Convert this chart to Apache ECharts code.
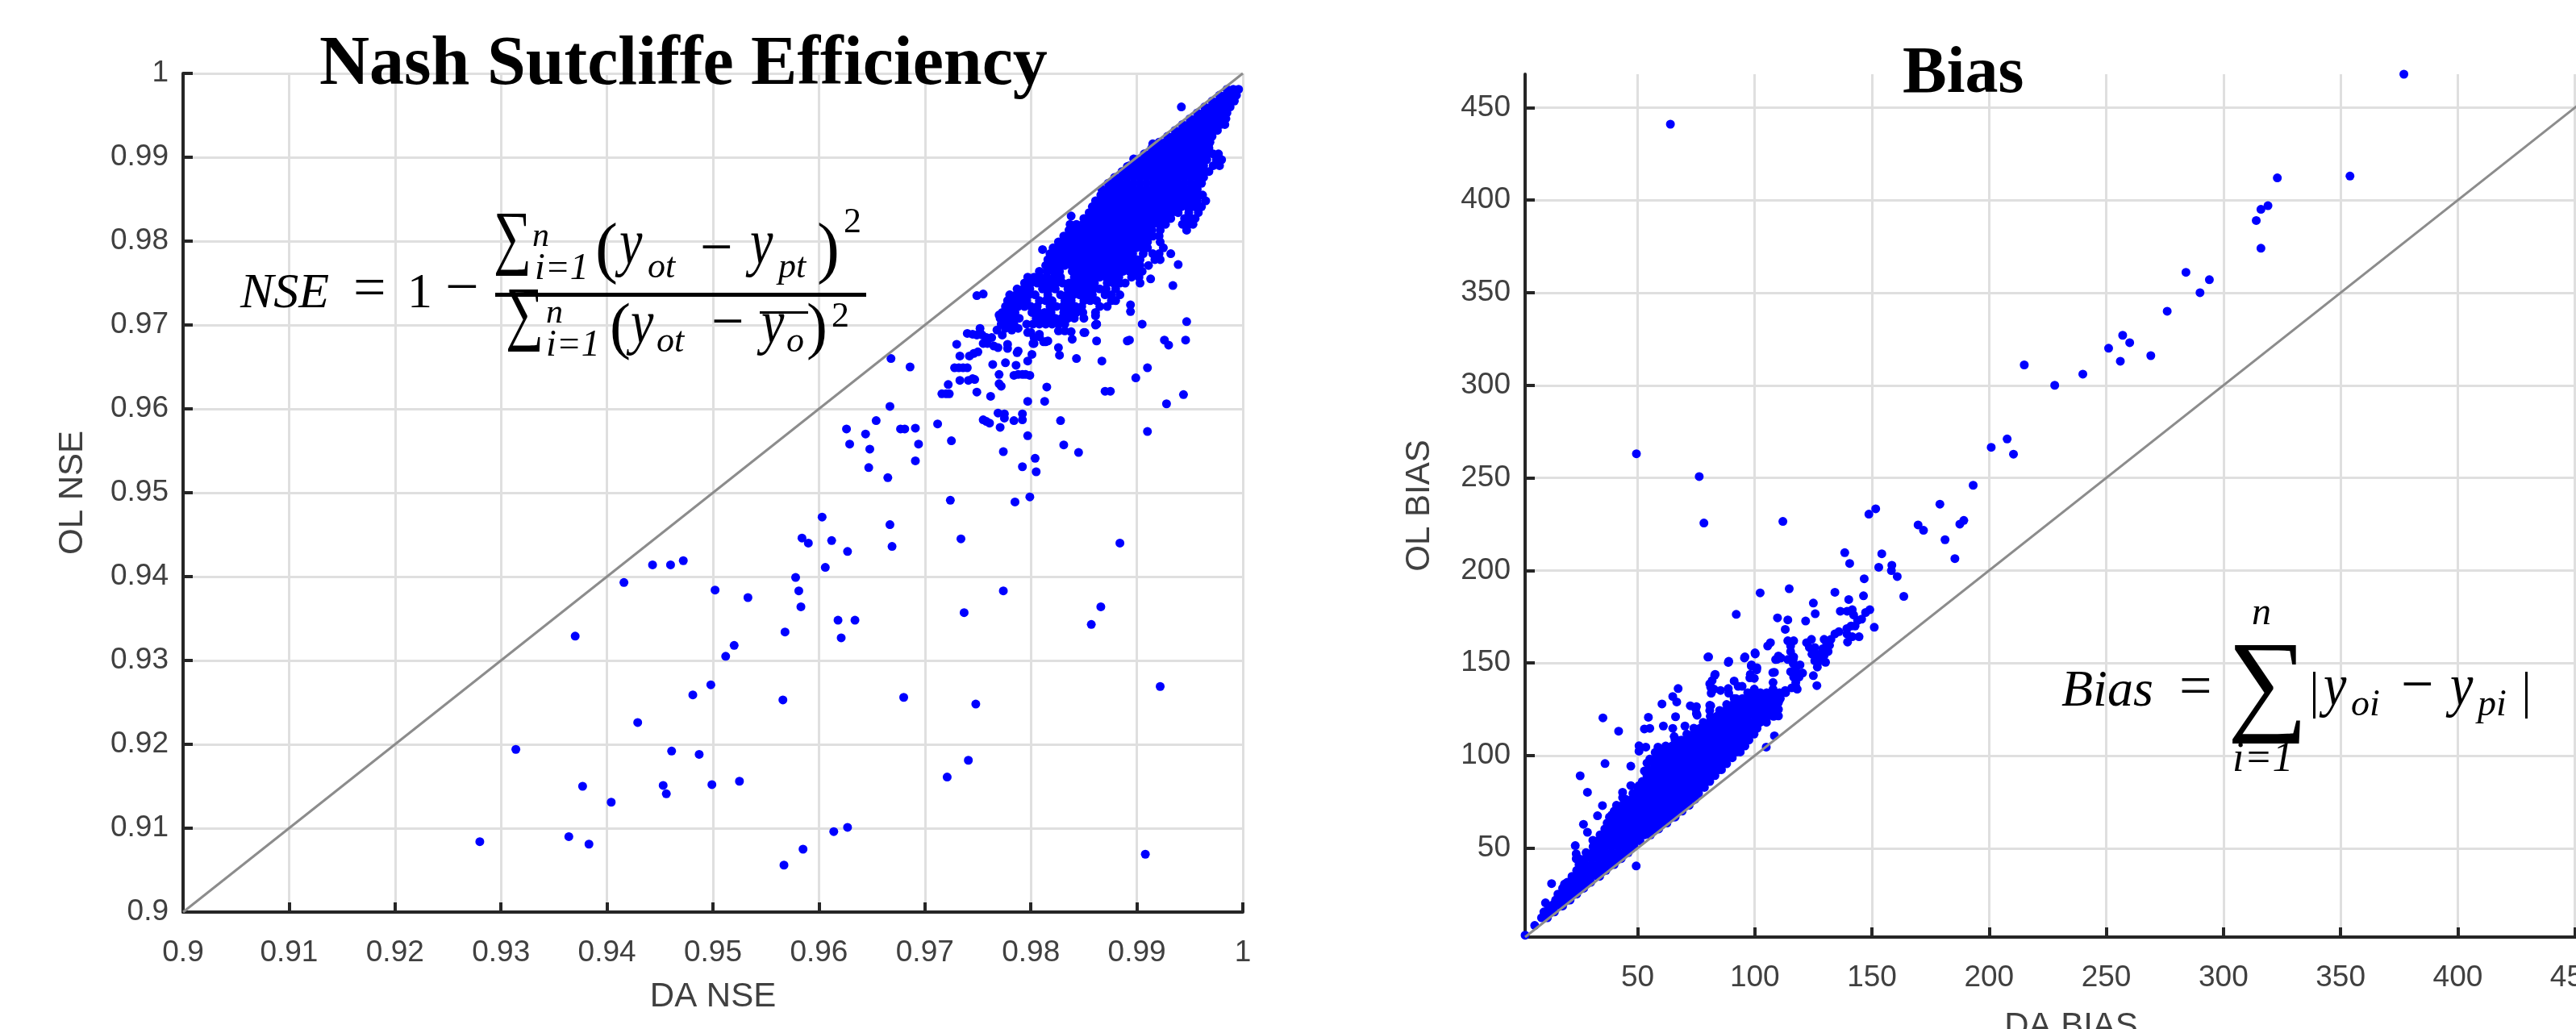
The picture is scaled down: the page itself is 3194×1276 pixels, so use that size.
<!DOCTYPE html>
<html><head><meta charset="utf-8">
<style>html,body{margin:0;padding:0;background:#fff;overflow:hidden}#c{width:3194px;height:1276px}</style>
<script src="https://cdn.jsdelivr.net/npm/echarts@6/dist/echarts.min.js"></script>
</head><body><div id="c"></div>
<script>
const nseTicks=[0.9,0.91,0.92,0.93,0.94,0.95,0.96,0.97,0.98,0.99,1];
const biasTicks=[50,100,150,200,250,300,350,400,450];
const nseRange=[0.9,1];
const biasRange=[2,468];
// NSE: individually read points [DA, OL]
const nsePoints=[[.928,.9084],[.9314,.9194],[.9364,.909],[.9383,.9081],[.937,.9329],[.9377,.915],[.9404,.9131],[.9416,.9393],[.9429,.9226],[.9443,.9414],[.946,.9414],[.9472,.9419],[.9453,.9151],[.9456,.9141],[.9461,.9192],[.9487,.9188],[.9481,.9259],[.9498,.9271],[.9499,.9152],[.9525,.9156],[.9502,.9384],[.9512,.9305],[.952,.9318],[.9533,.9375],[.9566,.9253],[.9568,.9334],[.9567,.9056],[.9585,.9075],[.9614,.9096],[.9627,.9101],[.9578,.9399],[.9581,.9383],[.9583,.9364],[.9584,.9446],[.959,.944],[.9606,.9411],[.9612,.9443],[.9627,.943],[.9618,.9348],[.9634,.9348],[.9621,.9327],[.9667,.9462],[.9669,.9436],[.968,.9256],[.9721,.9161],[.9741,.9181],[.9748,.9248],[.9737,.9357],[.9734,.9445],[.9774,.9383],[.9857,.9343],[.9866,.9364],[.9884,.944],[.9908,.9069],[.9922,.9269],[.9603,.9471],
[.9668,.966],[.9686,.965],[.9667,.9603],[.9654,.9586],[.9626,.9576],[.9644,.957],[.9677,.9576],[.9681,.9576],[.9691,.9577],[.9712,.9582],[.9629,.9558],[.9648,.9552],[.9694,.9558],[.9725,.9562],[.9647,.953],[.9691,.9538],[.9665,.9518],[.9724,.9491],[.9785,.9489],[.9799,.9495],[.9774,.9549],[.9792,.9531],[.9804,.9541],[.9805,.9525],[.9831,.9557],[.9845,.9548],[.9797,.9568],[.9828,.9586],[.9755,.9587],[.9758,.9585],[.9761,.9583],[.9771,.9578],[.9769,.9595],[.9775,.9594],[.9775,.9589],[.9784,.9586],[.9792,.9587],[.9792,.9594],[.9797,.9609],[.9813,.9609],[.9815,.9626],[.9762,.9615],[.9749,.962],[.9722,.9629],[.9716,.9618],[.972,.9618],[.9723,.9618],[.9733,.9634],[.9741,.9634],[.9745,.9636],[.9747,.9635],[.9728,.9649],[.9732,.9649],[.9736,.9649],[.974,.9649],[.9733,.9663],[.9742,.9663],[.9746,.9666],[.975,.9668],[.973,.9677],[.974,.969],[.9764,.9653],[.9776,.9655],[.9786,.9652],[.977,.9641],[.977,.963],[.9772,.9627],[.9784,.964],[.9788,.9641],[.9792,.9641],[.9795,.9641],[.9799,.964],[.9788,.9669],[.9797,.9657],[.9801,.9665],[.9843,.966],[.9867,.9657],[.987,.9621],[.9875,.9621],[.9827,.9664],[.9826,.9673],[.9839,.9683],[.985,.9691],[.9862,.9681],[.9862,.9701],[.9861,.9711],[.9749,.9735],[.9755,.9737],[.9891,.9681],
[.9932,.9785],[.9939,.9772],[.9913,.9755],[.9934,.9747],[.9894,.9724],[.9894,.9716],[.9905,.9701],[.9947,.9704],[.9946,.9682],[.9926,.9682],[.993,.9676],[.9893,.9682],[.991,.9649],[.9899,.9637],[.9944,.9617],[.9928,.9606],[.991,.9573],[.9942,.996],[.9915,.9916],[.9897,.9898],[.9891,.9889],[.9838,.983],[.9811,.979],
[.9745,.9689],[.9749,.9688],[.9752,.9696],[.9754,.9688],[.9752,.9691],[.9758,.9685],[.9763,.9685],[.9755,.9678],[.9759,.9678],[.9765,.9675],[.9769,.9673],[.9768,.9694],[.9773,.9688],[.9776,.9696],[.9778,.9677],[.9778,.9672],[.9782,.9699],[.9788,.9696],[.9797,.9691],[.9803,.9678],[.9803,.9685],[.9808,.9686],[.9812,.968],[.9816,.9681],[.9782,.9694],[.98,.9691],[.9808,.9689],[.9826,.9693],[.9832,.9693],[.9838,.9692],[.977,.9712],[.9775,.9712],[.9814,.968],[.9802,.9678],[.9787,.9667],[.9851,.9691],[.9861,.97]];
// NSE: saturated cloud read row by row [OL, DA, DA, ...]
const nseRows=[
[.9981,.9985,.9991,.9996],
[.9974,.9978,.9984,.999,.9994],
[.9967,.9971,.9977,.9983,.9989,.9992],
[.996,.9964,.997,.9976,.9982,.9988],
[.9953,.9957,.9963,.9969,.9975,.9981,.9985],
[.9946,.995,.9956,.9962,.9968,.9974,.998,.9984],
[.9939,.9943,.9949,.9955,.9961,.9967,.9973,.9979,.9983],
[.9932,.9936,.9942,.9948,.9954,.996,.9966,.9972,.9976],
[.9925,.9929,.9935,.9941,.9947,.9953,.9959,.9965,.9971],
[.9918,.9921,.9927,.9933,.9939,.9945,.9951,.9957,.9963,.9969],
[.9911,.9914,.992,.9926,.9932,.9938,.9944,.995,.9956,.9962,.9968],
[.9904,.9907,.9913,.9919,.9925,.9931,.9937,.9943,.9949,.9955,.9961,.9967,.9972,.9977],
[.9897,.99,.9906,.9912,.9918,.9924,.993,.9936,.9942,.9948,.9954,.996,.9966,.9975,.998],
[.989,.9893,.9899,.9905,.9911,.9917,.9923,.9929,.9935,.9941,.9947,.9953,.9959,.9963,.9972,.9978],
[.9883,.9886,.9892,.9898,.9904,.991,.9916,.9922,.9928,.9934,.994,.9946,.9952,.9958,.9964,.9968],
[.9876,.9879,.9885,.9891,.9897,.9903,.9909,.9915,.9921,.9927,.9933,.9939,.9945,.9951,.9957,.9963],
[.9869,.9873,.9879,.9885,.9891,.9897,.9903,.9909,.9915,.9921,.9927,.9933,.9939,.9945,.9951,.9957,.9961],
[.9862,.9867,.9873,.9879,.9885,.9891,.9897,.9903,.9909,.9915,.9921,.9927,.9933,.9939,.9945,.9951,.9957],
[.9855,.9866,.9872,.9878,.9884,.989,.9896,.9902,.9908,.9914,.992,.9926,.9932,.9938,.9944,.995,.9956,.9962],
[.9848,.9861,.9867,.9873,.9879,.9885,.9891,.9897,.9903,.9909,.9915,.9921,.9927,.9933,.9939,.9945,.9951,.9957,.9965],
[.9841,.9858,.9864,.987,.9876,.9882,.9888,.9894,.99,.9906,.9912,.9918,.9924,.993,.9936,.9942,.9948,.9954,.9961],
[.9834,.9855,.9861,.9867,.9873,.9879,.9885,.9891,.9897,.9903,.9909,.9915,.9921,.9927,.9933,.9939,.9949,.9958],
[.9827,.985,.9856,.9862,.9868,.9874,.988,.9886,.9892,.9898,.9904,.991,.9916,.9922,.9928,.9932,.9945,.9951,.9955],
[.982,.9837,.9843,.9849,.9855,.9861,.9867,.9873,.9879,.9885,.9891,.9897,.9903,.9909,.9915,.9921,.9927,.9943,.9949,.9953],
[.9813,.9836,.9842,.9848,.9854,.986,.9866,.9872,.9878,.9884,.989,.9896,.9902,.9908,.9914,.9922,.9947],
[.9806,.9831,.9837,.9843,.9849,.9855,.9861,.9867,.9873,.9879,.9885,.9891,.9897,.9903,.9909,.9915,.9921],
[.9799,.9826,.9832,.9838,.9844,.985,.9856,.9862,.9868,.9874,.988,.9886,.9892,.9898,.9904,.991,.9922],
[.9792,.9821,.9827,.9833,.9839,.9845,.9851,.9857,.9863,.9869,.9875,.9881,.9887,.9893,.9899,.9905,.991,.9925],
[.9785,.9818,.9824,.983,.9836,.9842,.9848,.9854,.986,.9866,.9872,.9878,.9884,.989,.9896,.9906,.9915,.9921],
[.9778,.9816,.9822,.9828,.9834,.984,.9846,.9852,.9858,.9864,.987,.9876,.9882,.9888,.9894,.99,.9903,.9917,.9922],
[.9771,.9814,.982,.9826,.9832,.9838,.9844,.985,.9856,.9862,.9868,.9874,.988,.9886,.9892,.9898,.9903,.9911],
[.9764,.9808,.9815,.9821,.9827,.9839,.9845,.9851,.9857,.9863,.9869,.9875,.9881,.9887,.9893,.9899,.9905],
[.9757,.9797,.9803,.9809,.9815,.9822,.9828,.9841,.9847,.9853,.9859,.9865,.9871,.9877,.9883,.9895,.9902],
[.975,.9794,.98,.9806,.9812,.9818,.9824,.983,.9836,.9842,.9848,.9854,.986,.9872,.9878,.9884,.9889,.9903],
[.9743,.9787,.9793,.9799,.9811,.9817,.9823,.9835,.9841,.9847,.9853,.9859,.9865,.9871,.988],
[.9736,.978,.9786,.9792,.9798,.9804,.9816,.9828,.9834,.984,.9846,.9852,.9858,.987,.9876,.9884],
[.9729,.9778,.9784,.979,.9796,.9808,.9814,.982,.9832,.9838,.985,.9856,.9862,.9876,.988],
[.9722,.9776,.9782,.9788,.9794,.98,.9806,.9818,.9824,.983,.9836,.9842,.9848,.9865,.9872],
[.9715,.9773,.9779,.9785,.9801,.9807,.9813,.9819,.9831,.9837,.9843,.9849,.9861],
[.9708,.9771,.9777,.9783,.9789,.9805,.9811,.9817,.9823,.9829,.9835,.9841,.985],
[.9701,.9772,.9778,.9784,.9796,.9802,.9808,.9814,.982,.9826,.9832,.9862]];
// Bias: individually read points [DA, OL]
const biasPoints=[[64,441],[49.5,263],[76.3,250.7],[78.3,225.6],[112,226.5],[193.2,246],[210.4,262.8],[200.9,266.5],[207.7,271],[179,235.8],[148.7,230.4],[151.6,233.3],[169.7,224.6],[172,221.7],[187.5,225],[189.2,227],[181.2,216.6],[185.4,206.4],[138.4,209.6],[154.2,209],[140.5,203.8],[152.9,201.7],[158.5,202.8],[158.3,199.9],[160.8,196.7],[146.7,195.5],[163.6,186],[146.4,186.3],[134.2,188.2],[140.1,184.3],[114.7,190.1],[102.3,187.9],[125,182.4],[92.1,176.3],[125.8,176.6],[109.7,174.4],[114.1,173.3],[121.7,172.7],[113,168.2],[151,169.3],
[136.5,178],[139.4,178],[141.6,178.8],[142.2,175.9],[143.9,173],[145.6,173.7],[147.3,177.3],[149.1,178.8],[139.3,168.6],[141.1,170],[142.8,170],[139.3,165.7],[141.6,164.2],[144.5,164.2],[139.6,161.3],[134.2,165.7],[135.9,166.9],[132.5,162.8],[130.7,160.6],[129.6,162.8],[114.1,162],[116.6,162],[115.3,159.2],[115.3,156.2],[106.7,161],[105.5,159.2],[100.1,155.5],[95.8,153.3],[80.3,153.3],[88.9,150.9],[110.1,153.8],[108.9,151.9],[116.6,153.3],[98.6,149],[100.9,147.5],[108.4,145],[98.1,143.9],[99.8,141.7],
[122.1,161],[124.2,162.8],[123.3,158.4],[125.6,158.4],[124.4,154.8],[126.7,154.8],[125.6,151.2],[127.9,151.2],[126.7,147.8],[130.2,150.4],[129.6,154.1],[131.3,156.2],[131.9,159.6],[129,157.7],[116.4,149.7],[119.3,149],[115.3,145.3],[117.5,146],[120.4,144.6],[116.6,142.4],[118.9,142.4],[117.5,139.5],[118.1,135.9],[114.1,151.9],[116.4,151.9],[125,143.2],[126.5,137.8],[108.4,110.7],[104.9,104.6],
[83.1,143.9],[80.8,138.8],[82.6,135.9],[81.4,133.7],[91.2,140.3],[92.9,137.4],[94.6,137.4],[85.4,135.2],[88.9,133.7],[91.2,130.8],[99.8,135.9],[97.5,133.7],[107.8,139.5],[107.8,135.9],[113,135.2],[115.8,136.6],[117.5,137.4],[110.1,128.6],[110.1,125],[110.1,121.4],[80.8,127.2],[80.8,124.3],[75.1,126.5],[75.1,122.8],
[35.2,120.4],[41.9,113.2],[36.1,95.7],[25.5,89.1],[47.1,94.3],[28.6,80.2],[35,73],[32.9,67.5],[13.3,30.9],[18.8,30.6],[49.4,40.4],[6.1,8.3],[2,3],[60.4,127.9],[54.6,120.7],[52.9,114.4],[55.2,114.7],[61,116],[66.2,121],[70.2,116],[65,114.7],[65.6,110.3],[67.9,108.2],[67.3,136.2],[65,131.9],[66.7,129],[82.9,143.4],[81.8,140.5],[81.2,136.9],[88.7,136.2],[72.5,126.9],[74.8,125.4],[75.4,121.8],[80,153.2],[88.7,150.3],[95.6,152.7],[100.2,154.9],[98.5,148.4],[100.8,146.3],[97.9,142],[107.7,144.8],[109.5,152],[111.2,152.7],[81.2,126.9],
[50.6,105.3],[53.5,104.6],[50.6,102.4],[58.7,104.6],[57.5,101.7],[55.2,98.1],[52.9,91.7],[54,96],[43.6,80.2],[47.1,83.8],[50.6,83.8],[43.6,77.3],[44.2,74.4],[39,68],[26.9,62.9],[28.6,58.6],[30.9,54.3],[31.5,52],[23.4,51.4],[23.8,47],[23.8,44.3],[10.7,20.5],[14.2,19.8],
[215,311],[228,300],[240,306],[251,320],[256,313],[257,327],[260,323],[269,316],[276,340],[284,361],[290,350],[294,357],[314,389],[316,374],[316,395],[319,397],[323,412],[354,413],[377,468]];
// Bias: saturated cloud read row by row [OL, DA, DA, ...]
const biasRows=[
[134,97,99.7,102.4,105.1,107.8,110.5,113.2],
[130.8,92,94.7,97.4,100.1,102.8,105.5,108.2,110.9],
[127.6,88,90.7,93.4,96.1,98.8,101.5,104.2,106.9,109.6],
[124.4,85,87.7,90.4,93.1,95.8,98.5,101.2,103.9,106.6,109.3],
[121.2,81,83.7,86.4,89.1,91.8,94.5,97.2,99.9,102.6,105.3,108],
[118,78,80.7,83.4,86.1,88.8,91.5,94.2,96.9,99.6,102.3,105],
[114.8,74,76.7,79.4,82.1,84.8,87.5,90.2,92.9,95.6,98.3,101],
[111.6,71,73.7,76.4,79.1,81.8,84.5,87.2,89.9,92.6,95.3,98,99.7],
[108.4,66,68.7,71.4,74.1,76.8,79.5,82.2,84.9,87.6,90.3,93,95.7,97.5],
[105.2,62,64.7,67.4,70.1,72.8,75.5,78.2,80.9,83.6,86.3,89,91.7,94.4,95.8],
[102,60,62.7,65.4,68.1,70.8,73.5,76.2,78.9,81.6,84.3,87,89.7,92.4,93.8],
[98.8,58,60.7,63.4,66.1,68.8,71.5,74.2,76.9,79.6,82.3,85,87.7,90.4],
[95.6,57,59.7,62.4,65.1,67.8,70.5,73.2,75.9,78.6,81.3,84,86.7,88],
[92.4,55,57.7,60.4,63.1,65.8,68.5,71.2,73.9,76.6,79.3,82,84.7,85.8],
[89.2,54,56.7,59.4,62.1,64.8,67.5,70.2,72.9,75.6,78.3,81,83],
[86,52,54.7,57.4,60.1,62.8,65.5,68.2,70.9,73.6,76.3,79,80.8],
[82.8,50,52.7,55.4,58.1,60.8,63.5,66.2,68.9,71.6,74.3,77,78.5],
[79.6,48,50.7,53.4,56.1,58.8,61.5,64.2,66.9,69.6,72.3,75,76],
[76.4,45,47.7,50.4,53.1,55.8,58.5,61.2,63.9,66.6,69.3,72,74.5],
[73.2,41,43.7,46.4,49.1,51.8,54.5,57.2,59.9,62.6,65.3,68,70.7,72],
[70,40,42.7,45.4,48.1,50.8,53.5,56.2,58.9,61.6,64.3,67,69],
[66.8,38,40.7,43.4,46.1,48.8,51.5,54.2,56.9,59.6,62.3,65,66],
[63.6,37,39.7,42.4,45.1,47.8,50.5,53.2,55.9,58.6,61.3,62.5],
[60.4,36,38.7,41.4,44.1,46.8,49.5,52.2,54.9,57.6,59],
[57.2,34,36.7,39.4,42.1,44.8,47.5,50.2,52.9,55.5],
[54,33,35.7,38.4,41.1,43.8,46.5,49.2,51],
[50.8,31,33.7,36.4,39.1,41.8,44.5,47.2,48.5],
[47.6,28,30.7,33.4,36.1,38.8,41.5,44.2,46],
[44.4,25,27.7,30.4,33.1,35.8,38.5,41.2,43],
[41.2,25,27.7,30.4,33.1,35.8,38.5,40],
[38,24,26.7,29.4,32.1,34.8,36.5],
[34.8,22,24.7,27.4,30.1,32.8,33.8],
[31.6,20,22.7,25.4,28.1,30],
[28.4,18,20.7,23.4,26.1,27],
[25.2,16,18.7,21.4,24],
[22,15,17.7,20.4,21.2],
[18.8,12,14.7,17.4,18],
[15.6,10,12.7,14.5],
[12.4,9,11.5]];

const expand=rows=>rows.flatMap(r=>r.slice(1).map(x=>[x,r[0]]));
const nseData=nsePoints.concat(expand(nseRows));
const biasData=biasPoints.concat(expand(biasRows));

const sans='"Liberation Sans",Arial,sans-serif', serif='"Liberation Serif",serif';
function axis(idx,name,range,ticks,gap,isY,fmt){
  return {type:'value',gridIndex:idx,min:range[0],max:range[1],name,nameLocation:'middle',nameGap:gap,
    nameRotate:isY?90:0,nameTextStyle:{fontFamily:sans,fontSize:42,color:'#404040'},
    axisLine:{show:true,onZero:false,lineStyle:{color:'#262626',width:4}},
    axisTick:{show:true,inside:true,length:12,customValues:ticks,lineStyle:{color:'#262626',width:4}},
    axisLabel:{show:true,customValues:ticks,fontFamily:sans,fontSize:37,color:'#404040',margin:isY?18:32,formatter:fmt,hideOverlap:false},
    splitLine:{show:true,lineStyle:{color:'#dfdfdf',width:3}},minorTick:{show:false}};
}
const fmt2=v=>String(+(+v).toFixed(2)), fmt0=v=>String(Math.round(v));
function dots(i,data){return {type:'scatter',xAxisIndex:i,yAxisIndex:i,data,symbol:'circle',symbolSize:11,itemStyle:{color:'#0000ff',opacity:1},z:3,silent:true,animation:false,large:false};}
function diag(i,r){return {type:'line',xAxisIndex:i,yAxisIndex:i,data:[[r[0],r[0]],[r[1],r[1]]],showSymbol:false,symbol:'none',lineStyle:{color:'#8c8c8c',width:3},z:4,silent:true,animation:false};}

// equation pieces: [x, baseline, text, size, italic, vertical stretch]
const mathPieces=[
[298,383,'NSE',62,1,1],[438,383,'=',72,0,1],[505,383,'1',62,0,1],[552,383,'−',74,0,1],
[612,326,'∑',66,0,1.35],[660,307,'n',42,1,1],[663,348,'i=1',46,1,1],[738,338,'(',84,0,1],[768,330,'y',64,1,1.25],[803,346,'ot',44,1,1],[868,333,'−',72,0,1],[930,330,'y',64,1,1.25],[965,346,'pt',44,1,1],[1013,338,')',84,0,1],[1046,290,'2',44,0,1],
[627,420,'∑',66,0,1.35],[677,402,'n',42,1,1],[677,443,'i=1',46,1,1],[756,433,'(',78,0,1],[782,428,'y',64,1,1.2],[814,438,'ot',44,1,1],[882,425,'−',72,0,1],[944,428,'y',64,1,1.2],[975,438,'o',44,1,1],[1000,433,')',78,0,1],[1031,407,'2',44,0,1],
[2556,877,'Bias',64,1,1],[2702,877,'=',72,0,1],[2762,897,'∑',140,0,1],[2792,776,'n',48,1,1],[2768,958,'i=1',52,1,1],[2881,877,'y',64,1,1.15],[2915,889,'oi',46,1,1],[2977,875,'−',72,0,1],[3038,877,'y',64,1,1.15],[3072,889,'pi',46,1,1]];
const graphic=mathPieces.map(p=>({type:'text',z:10,silent:true,x:p[0],y:p[1]+0.2*p[3]*p[5],scaleY:p[5],style:{text:p[2],fill:'#000',
  font:(p[4]?'italic ':'')+p[3]+'px "Liberation Serif"',textAlign:'left',textVerticalAlign:'bottom'}}));
graphic.push({type:'rect',z:10,silent:true,shape:{x:614,y:363,width:460,height:5},style:{fill:'#000'}});
graphic.push({type:'rect',z:10,silent:true,shape:{x:942,y:386,width:60,height:3},style:{fill:'#000'}});
graphic.push({type:'rect',z:10,silent:true,shape:{x:2868,y:833,width:3,height:58},style:{fill:'#000'}});
graphic.push({type:'rect',z:10,silent:true,shape:{x:3131,y:833,width:3,height:58},style:{fill:'#000'}});

const chart=echarts.init(document.getElementById('c'),null,{renderer:'canvas'});
chart.setOption({animation:false,backgroundColor:'#fff',
  title:[
    {text:'Nash Sutcliffe Efficiency',left:396,top:39,padding:0,z:10,textStyle:{fontFamily:serif,fontWeight:'bold',fontSize:86,color:'#000'}},
    {text:'Bias',left:2359,top:52,padding:0,z:10,textStyle:{fontFamily:serif,fontWeight:'bold',fontSize:82,color:'#000'}}],
  grid:[{left:227,top:91,width:1314,height:1040,containLabel:false,outerBoundsMode:'none'},{left:1891,top:92,width:1354,height:1070,containLabel:false,outerBoundsMode:'none'}],
  xAxis:[axis(0,'DA NSE',nseRange,nseTicks,84,false,fmt2),axis(1,'DA BIAS',biasRange,biasTicks,90,false,fmt0)],
  yAxis:[axis(0,'OL NSE',nseRange,nseTicks,116,true,fmt2),axis(1,'OL BIAS',biasRange,biasTicks,110,true,fmt0)],
  series:[dots(0,nseData),diag(0,nseRange),dots(1,biasData),diag(1,biasRange)],
  graphic:{elements:graphic}
});
</script></body></html>
